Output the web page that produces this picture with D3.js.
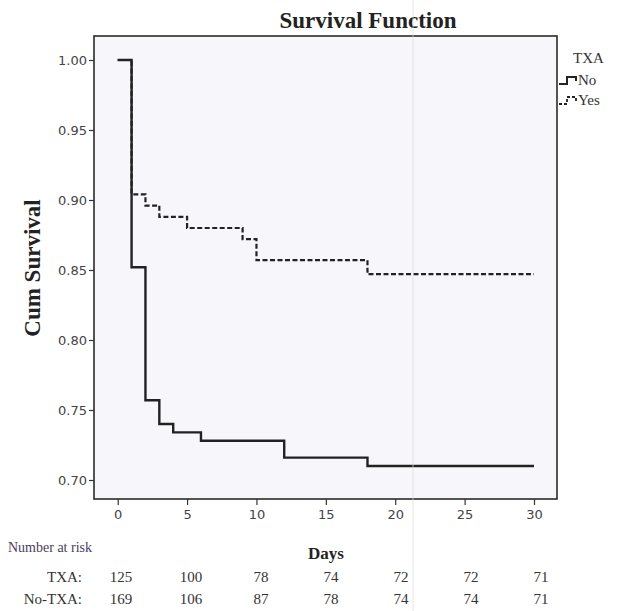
<!DOCTYPE html>
<html>
<head>
<meta charset="utf-8">
<script src="https://cdn.jsdelivr.net/npm/d3@7"></script>
<style>
  html, body { margin: 0; padding: 0; background: #ffffff; }
  svg { display: block; }
</style>
</head>
<body>
<svg id="chart" width="620" height="611"></svg>
<script>
// ---- data ----
const noTimes = [0, 1, 2, 3, 4, 6, 12, 18, 30];
const noSurv  = [1.000, 0.852, 0.757, 0.740, 0.734, 0.728, 0.716, 0.710, 0.710];
const yesTimes = [0, 1, 2, 3, 5, 9, 10, 18, 30];
const yesSurv  = [1.000, 0.904, 0.896, 0.888, 0.880, 0.872, 0.857, 0.847, 0.847];
const xTicks = [0, 5, 10, 15, 20, 25, 30];
const yTicks = [0.70, 0.75, 0.80, 0.85, 0.90, 0.95, 1.00];
const riskDays = [0, 5, 10, 15, 20, 25, 30];
const riskTXA = [125, 100, 78, 74, 72, 72, 71];
const riskNoTXA = [169, 106, 87, 78, 74, 74, 71];
const legendTitle = "TXA";
const legendLabels = ["No", "Yes"];

const svg = d3.select("#chart");
const serif = "'Liberation Serif', 'Times New Roman', serif";
const sans = "'DejaVu Sans', Verdana, sans-serif";

const box = {left: 94, right: 557, top: 36, bottom: 499};
const x = d3.scaleLinear().domain([0, 30]).range([117.7, 534]);
const y = d3.scaleLinear().domain([0.70, 1.00]).range([480, 60]);

// plot area
svg.append("rect")
  .attr("x", box.left).attr("y", box.top)
  .attr("width", box.right - box.left).attr("height", box.bottom - box.top)
  .attr("fill", "#f7f7fb").attr("stroke", "#2a2a2a").attr("stroke-width", 1.6);

// title
svg.append("text").attr("x", 368).attr("y", 28)
  .attr("text-anchor", "middle").attr("font-family", serif)
  .attr("font-weight", "bold").attr("font-size", 23).attr("fill", "#222")
  .text("Survival Function");

// y axis
const yAxis = d3.axisLeft(y).tickValues(yTicks).tickFormat(d3.format(".2f")).tickSize(5).tickPadding(2);
const gy = svg.append("g").attr("transform", `translate(${box.left},0)`).call(yAxis);
gy.select(".domain").remove();
gy.selectAll("line").attr("stroke", "#333").attr("stroke-width", 1.2);
gy.selectAll("text").attr("font-family", sans).attr("font-size", 13).attr("fill", "#444");

// x axis
const xAxis = d3.axisBottom(x).tickValues(xTicks).tickFormat(d3.format("d")).tickSize(6).tickPadding(5);
const gx = svg.append("g").attr("transform", `translate(0,${box.bottom})`).call(xAxis);
gx.select(".domain").remove();
gx.selectAll("line").attr("stroke", "#333").attr("stroke-width", 1.2);
gx.selectAll("text").attr("font-family", sans).attr("font-size", 13).attr("fill", "#444");

// axis titles
svg.append("text")
  .attr("transform", "translate(40,268) rotate(-90)")
  .attr("text-anchor", "middle").attr("font-family", serif)
  .attr("font-weight", "bold").attr("font-size", 23).attr("fill", "#222")
  .text("Cum Survival");

svg.append("text").attr("x", 326).attr("y", 559)
  .attr("text-anchor", "middle").attr("font-family", serif)
  .attr("font-weight", "bold").attr("font-size", 17).attr("fill", "#222")
  .text("Days");

// curves
const line = d3.line().x(d => x(d[0])).y(d => y(d[1])).curve(d3.curveStepAfter);
svg.append("path").datum(yesTimes.map((t, i) => [t, yesSurv[i]]))
  .attr("d", line).attr("fill", "none").attr("stroke", "#222")
  .attr("stroke-width", 2.2).attr("stroke-dasharray", "5,2.5");
svg.append("path").datum(noTimes.map((t, i) => [t, noSurv[i]]))
  .attr("d", line).attr("fill", "none").attr("stroke", "#222")
  .attr("stroke-width", 2.4);

// legend
svg.append("text").attr("x", 573).attr("y", 63)
  .attr("font-family", serif).attr("font-size", 15).attr("fill", "#333").text(legendTitle);
const legY = [84, 104];
legendLabels.forEach((lab, i) => {
  const yy = legY[i];
  const p = d3.path();
  p.moveTo(559, yy); p.lineTo(567, yy); p.lineTo(567, yy - 7); p.lineTo(576, yy - 7); p.lineTo(576, yy - 3);
  svg.append("path").attr("d", p.toString()).attr("fill", "none").attr("stroke", "#222")
    .attr("stroke-width", i === 0 ? 2 : 1.8).attr("stroke-dasharray", i === 0 ? null : "3,2");
  svg.append("text").attr("x", 578).attr("y", yy + 1)
    .attr("font-family", serif).attr("font-size", 15).attr("fill", "#333").text(lab);
});

// number at risk
svg.append("text").attr("x", 8).attr("y", 552)
  .attr("font-family", serif).attr("font-size", 14).attr("fill", "#4b3b5e").text("Number at risk");
const rx = d3.scalePoint().domain(riskDays).range([121, 541]);
const rows = [["TXA:", riskTXA, 582], ["No-TXA:", riskNoTXA, 604]];
rows.forEach(([lab, vals, yy]) => {
  svg.append("text").attr("x", 82).attr("y", yy).attr("text-anchor", "end")
    .attr("font-family", serif).attr("font-size", 15).attr("fill", "#333").text(lab);
  svg.selectAll(null).data(vals).enter().append("text")
    .attr("x", (d, i) => rx(riskDays[i])).attr("y", yy).attr("text-anchor", "middle")
    .attr("font-family", serif).attr("font-size", 15).attr("fill", "#333").text(d => d);
});

// faint scan fold line
svg.append("line").attr("x1", 413).attr("x2", 413).attr("y1", 0).attr("y2", 611)
  .attr("stroke", "#dcdcdc").attr("stroke-width", 1).attr("opacity", 0.7);
</script>
</body>
</html>
